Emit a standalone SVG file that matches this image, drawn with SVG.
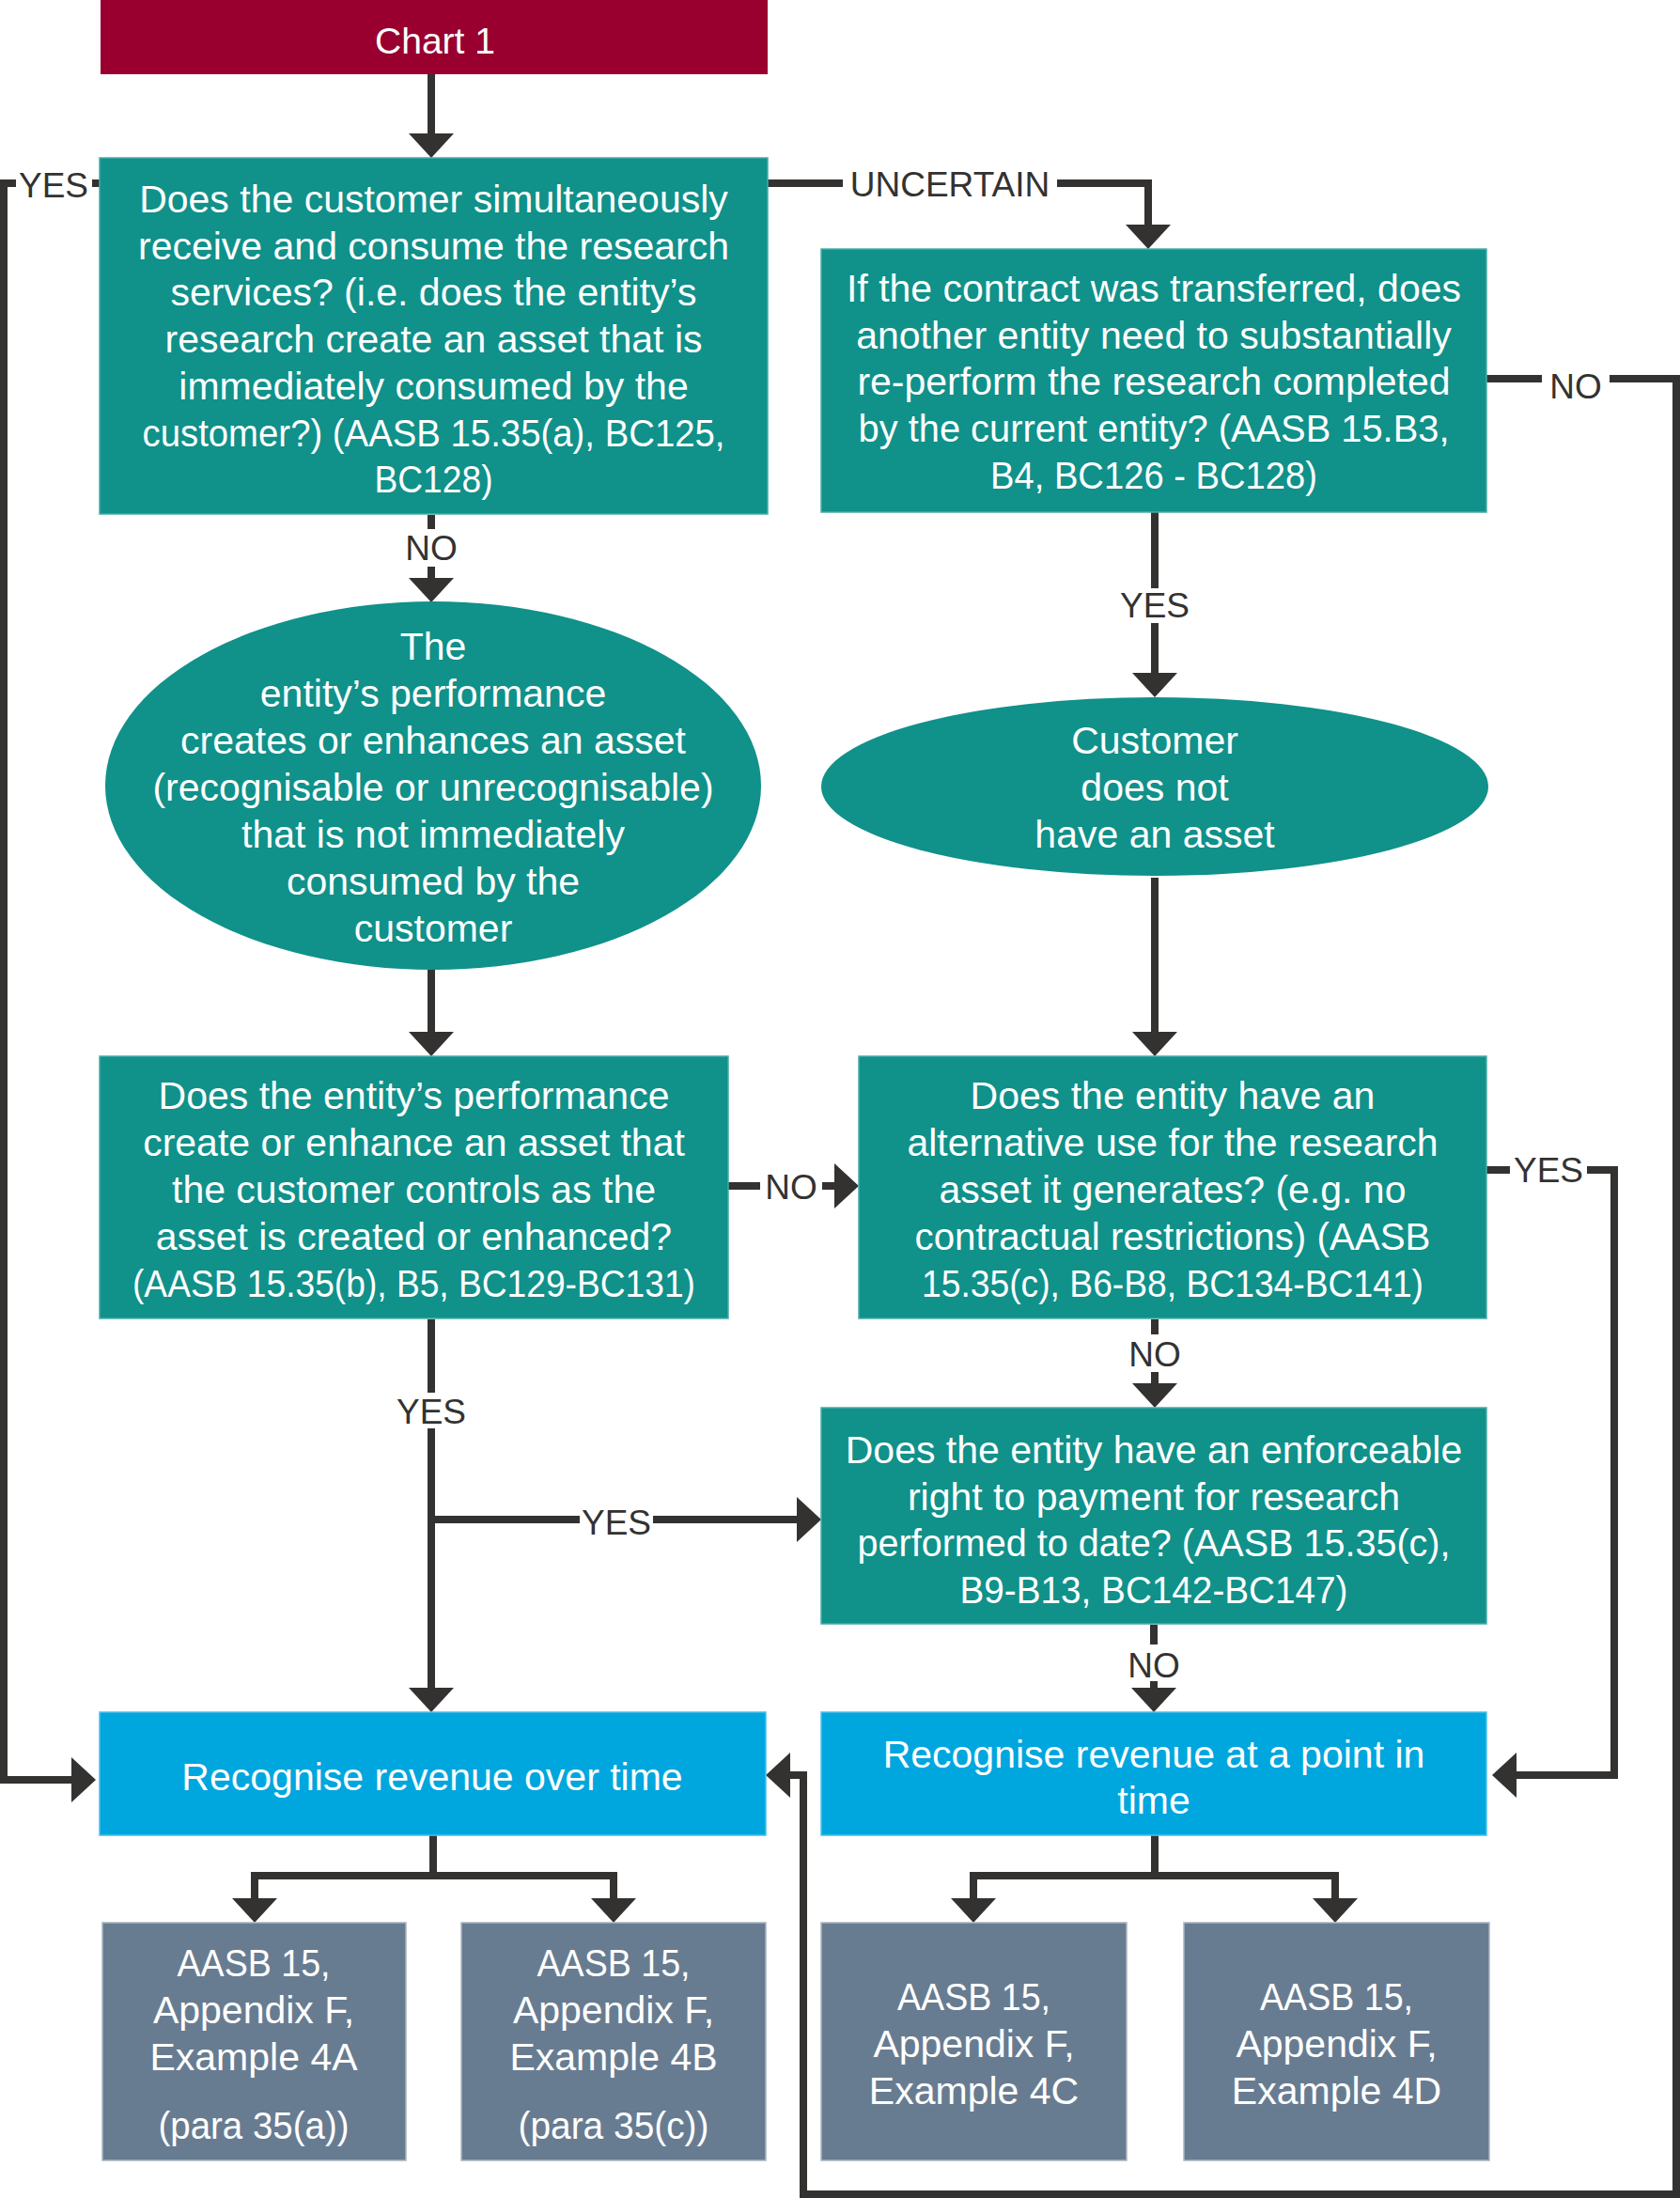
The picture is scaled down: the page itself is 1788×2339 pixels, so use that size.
<svg xmlns="http://www.w3.org/2000/svg" width="1788" height="2339" viewBox="0 0 1788 2339">
<style>
text{font-family:"Liberation Sans",Arial,sans-serif}
.t{fill:#ffffff;font-size:41px;text-anchor:middle}
.lbl{fill:#333231;font-size:37px;text-anchor:middle}
.c{fill:none;stroke:#333231;stroke-width:8;stroke-linejoin:miter}
.teal{fill:#10918a;stroke:#48aca6;stroke-width:1.5}
.blue{fill:#00a6de;stroke:#4cc0ea;stroke-width:1.5}
.slate{fill:#687c91;stroke:#a9b5c0;stroke-width:1.5}
.red{fill:#99002f}
</style>
<defs>
<marker id="ah" markerUnits="userSpaceOnUse" markerWidth="26" markerHeight="48" viewBox="0 0 26 48" refX="0" refY="24" orient="auto">
<path d="M0,0 L26,24 L0,48 Z" fill="#333231"/>
</marker>
</defs>
<rect width="1788" height="2339" fill="#ffffff"/>

<g id="connectors">
<path class="c" d="M459,79 V142" marker-end="url(#ah)"/>
<path class="c" d="M106,195 H98"/>
<path class="c" d="M17,195 H4 V1894 H76" marker-end="url(#ah)"/>
<path class="c" d="M817,195 H897"/>
<path class="c" d="M1125,195 H1222 V239" marker-end="url(#ah)"/>
<path class="c" d="M459,548 V563"/>
<path class="c" d="M459,603 V615" marker-end="url(#ah)"/>
<path class="c" d="M459,1032 V1098" marker-end="url(#ah)"/>
<path class="c" d="M1229,545 V626"/>
<path class="c" d="M1229,663 V716" marker-end="url(#ah)"/>
<path class="c" d="M1582,403 H1641"/>
<path class="c" d="M1713,403 H1784 V2335 H855 V1889 H841" marker-end="url(#ah)"/>
<path class="c" d="M1229,934 V1098" marker-end="url(#ah)"/>
<path class="c" d="M775,1262 H809"/>
<path class="c" d="M875,1262 H888" marker-end="url(#ah)"/>
<path class="c" d="M1582,1245 H1607"/>
<path class="c" d="M1689,1245 H1718 V1889 H1614" marker-end="url(#ah)"/>
<path class="c" d="M1229,1404 V1420"/>
<path class="c" d="M1229,1460 V1472" marker-end="url(#ah)"/>
<path class="c" d="M459,1404 V1482"/>
<path class="c" d="M459,1520 V1796" marker-end="url(#ah)"/>
<path class="c" d="M459,1617 H617"/>
<path class="c" d="M695,1617 H848" marker-end="url(#ah)"/>
<path class="c" d="M1228,1729 V1750"/>
<path class="c" d="M1228,1789 V1796" marker-end="url(#ah)"/>
<path class="c" d="M461,1953 V1996"/>
<path class="c" d="M461,1996 H271 V2020" marker-end="url(#ah)"/>
<path class="c" d="M461,1996 H653 V2020" marker-end="url(#ah)"/>
<path class="c" d="M1229,1953 V1996"/>
<path class="c" d="M1229,1996 H1036 V2020" marker-end="url(#ah)"/>
<path class="c" d="M1229,1996 H1421 V2020" marker-end="url(#ah)"/>
<text class="lbl" x="57" y="210">YES</text>
<text class="lbl" x="1011" y="209">UNCERTAIN</text>
<text class="lbl" x="459" y="596">NO</text>
<text class="lbl" x="1229" y="657">YES</text>
<text class="lbl" x="1677" y="424">NO</text>
<text class="lbl" x="842" y="1276">NO</text>
<text class="lbl" x="1648" y="1258">YES</text>
<text class="lbl" x="1229" y="1454">NO</text>
<text class="lbl" x="459" y="1515">YES</text>
<text class="lbl" x="656" y="1633">YES</text>
<text class="lbl" x="1228" y="1785">NO</text>
</g>

<g id="chart1">
<rect class="red" x="107" y="0" width="710" height="79"/>
<text x="463" y="57" style="fill:#ffffff;font-size:39px;text-anchor:middle">Chart 1</text>
</g>

<g id="q1">
<rect class="teal" x="106" y="168" width="711" height="379"/>
<text class="t" x="461.5" y="226">Does the customer simultaneously</text>
<text class="t" x="461.5" y="276">receive and consume the research</text>
<text class="t" x="461.5" y="325">services? (i.e. does the entity’s</text>
<text class="t" x="461.5" y="375">research create an asset that is</text>
<text class="t" x="461.5" y="425">immediately consumed by the</text>
<text class="t" x="461.5" y="475" textLength="620" lengthAdjust="spacingAndGlyphs">customer?) (AASB 15.35(a), BC125,</text>
<text class="t" x="461.5" y="524" textLength="126" lengthAdjust="spacingAndGlyphs">BC128)</text>
</g>

<g id="q2">
<rect class="teal" x="874" y="265" width="708" height="280"/>
<text class="t" x="1228" y="321">If the contract was transferred, does</text>
<text class="t" x="1228" y="371">another entity need to substantially</text>
<text class="t" x="1228" y="420">re-perform the research completed</text>
<text class="t" x="1228" y="470" textLength="629" lengthAdjust="spacingAndGlyphs">by the current entity? (AASB 15.B3,</text>
<text class="t" x="1228" y="520" textLength="348" lengthAdjust="spacingAndGlyphs">B4, BC126 - BC128)</text>
</g>

<g id="e1">
<ellipse cx="461" cy="836" rx="349" ry="196" fill="#10918a"/>
<text class="t" x="461" y="702">The</text>
<text class="t" x="461" y="752">entity’s performance</text>
<text class="t" x="461" y="802">creates or enhances an asset</text>
<text class="t" x="461" y="852">(recognisable or unrecognisable)</text>
<text class="t" x="461" y="902">that is not immediately</text>
<text class="t" x="461" y="952">consumed by the</text>
<text class="t" x="461" y="1002">customer</text>
</g>

<g id="e2">
<ellipse cx="1229" cy="837" rx="355" ry="95" fill="#10918a"/>
<text class="t" x="1229" y="802">Customer</text>
<text class="t" x="1229" y="852">does not</text>
<text class="t" x="1229" y="902">have an asset</text>
</g>

<g id="q3">
<rect class="teal" x="106" y="1124" width="669" height="279"/>
<text class="t" x="440.5" y="1180">Does the entity’s performance</text>
<text class="t" x="440.5" y="1230">create or enhance an asset that</text>
<text class="t" x="440.5" y="1280">the customer controls as the</text>
<text class="t" x="440.5" y="1330">asset is created or enhanced?</text>
<text class="t" x="440.5" y="1380" textLength="599" lengthAdjust="spacingAndGlyphs">(AASB 15.35(b), B5, BC129-BC131)</text>
</g>

<g id="q4">
<rect class="teal" x="914" y="1124" width="668" height="279"/>
<text class="t" x="1248" y="1180">Does the entity have an</text>
<text class="t" x="1248" y="1230">alternative use for the research</text>
<text class="t" x="1248" y="1280">asset it generates? (e.g. no</text>
<text class="t" x="1248" y="1330" textLength="549" lengthAdjust="spacingAndGlyphs">contractual restrictions) (AASB</text>
<text class="t" x="1248" y="1380" textLength="534" lengthAdjust="spacingAndGlyphs">15.35(c), B6-B8, BC134-BC141)</text>
</g>

<g id="q5">
<rect class="teal" x="874" y="1498" width="708" height="230"/>
<text class="t" x="1228" y="1557">Does the entity have an enforceable</text>
<text class="t" x="1228" y="1607">right to payment for research</text>
<text class="t" x="1228" y="1656" textLength="631" lengthAdjust="spacingAndGlyphs">performed to date? (AASB 15.35(c),</text>
<text class="t" x="1228" y="1706" textLength="413" lengthAdjust="spacingAndGlyphs">B9-B13, BC142-BC147)</text>
</g>

<g id="overtime">
<rect class="blue" x="106" y="1822" width="709" height="131"/>
<text class="t" x="460" y="1905">Recognise revenue over time</text>
</g>

<g id="pointintime">
<rect class="blue" x="874" y="1822" width="708" height="131"/>
<text class="t" x="1228" y="1881">Recognise revenue at a point in</text>
<text class="t" x="1228" y="1930">time</text>
</g>

<g id="ex4a">
<rect class="slate" x="109" y="2046" width="323" height="253"/>
<text class="t" x="270" y="2103" textLength="163" lengthAdjust="spacingAndGlyphs">AASB 15,</text>
<text class="t" x="270" y="2153">Appendix F,</text>
<text class="t" x="270" y="2203">Example 4A</text>
<text class="t" x="270" y="2276" textLength="203" lengthAdjust="spacingAndGlyphs">(para 35(a))</text>
</g>

<g id="ex4b">
<rect class="slate" x="491" y="2046" width="324" height="253"/>
<text class="t" x="653" y="2103" textLength="163" lengthAdjust="spacingAndGlyphs">AASB 15,</text>
<text class="t" x="653" y="2153">Appendix F,</text>
<text class="t" x="653" y="2203">Example 4B</text>
<text class="t" x="653" y="2276" textLength="203" lengthAdjust="spacingAndGlyphs">(para 35(c))</text>
</g>

<g id="ex4c">
<rect class="slate" x="874" y="2046" width="325" height="253"/>
<text class="t" x="1036.5" y="2139" textLength="163" lengthAdjust="spacingAndGlyphs">AASB 15,</text>
<text class="t" x="1036.5" y="2189">Appendix F,</text>
<text class="t" x="1036.5" y="2239">Example 4C</text>
</g>

<g id="ex4d">
<rect class="slate" x="1260" y="2046" width="325" height="253"/>
<text class="t" x="1422.5" y="2139" textLength="163" lengthAdjust="spacingAndGlyphs">AASB 15,</text>
<text class="t" x="1422.5" y="2189">Appendix F,</text>
<text class="t" x="1422.5" y="2239">Example 4D</text>
</g>
</svg>
